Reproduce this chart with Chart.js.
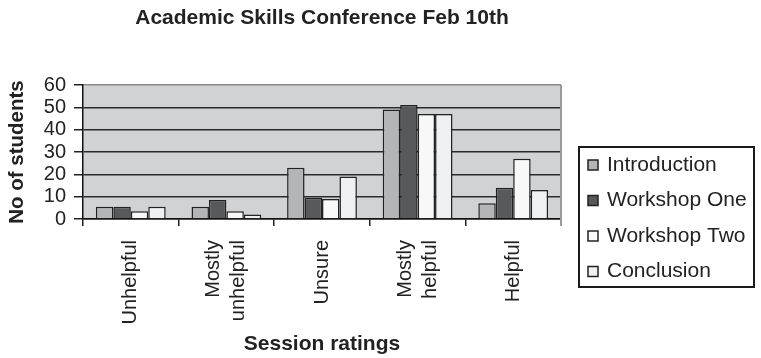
<!DOCTYPE html>
<html>
<head>
<meta charset="utf-8">
<script src="https://cdn.jsdelivr.net/npm/chart.js@4.4.1/dist/chart.umd.min.js"></script>
<style>
  html, body { margin: 0; padding: 0; background: #fff; }
  #wrap { width: 761px; height: 358px; }
</style>
</head>
<body>
<div id="wrap"><canvas id="ratingsChart" width="761" height="358"></canvas></div>
<script>
// session ratings data
const ratings = ['Unhelpful', ['Mostly', 'unhelpful'], 'Unsure', ['Mostly', 'helpful'], 'Helpful'];
const introduction = [5.5, 5.5, 23, 49, 7];
const workshopOne = [5.5, 8.5, 9.5, 51, 14];
const workshopTwo = [3.5, 3.5, 9, 47, 27];
const conclusion = [5.5, 2, 19, 47, 13];
const yTicks = [0, 10, 20, 30, 40, 50, 60];

const FONT = "'Liberation Sans', Arial, sans-serif";

// grey plot background + right edge line
const plotBg = {
    id: 'plotBg',
    beforeDraw(chart) {
        const a = chart.chartArea, ctx = chart.ctx;
        ctx.save();
        ctx.fillStyle = '#d1d2d4';
        ctx.fillRect(a.left, a.top, a.right - a.left, a.bottom - a.top);
        ctx.restore();

        // centre two-line category labels on their tick
        const xs = chart.scales.x;
        xs.getLabelItems().forEach(item => {
            if (Array.isArray(item.label) && !item._moved) {
                const lh = item.font.lineHeight;
                item.options.translation[0] -= lh * (item.label.length - 1) / 2;
                item._moved = true;
            }
        });
    },
    afterDatasetsDraw(chart) {
        const a = chart.chartArea, ctx = chart.ctx;
        ctx.save();
        ctx.strokeStyle = '#9a9a9a';
        ctx.lineWidth = 2;
        ctx.beginPath();
        ctx.moveTo(a.right, a.top);
        ctx.lineTo(a.right, a.bottom + 7);
        ctx.stroke();
        ctx.restore();
    }
};

// boxed legend on the right
const boxLegend = {
    id: 'boxLegend',
    afterDraw(chart) {
        const ctx = chart.ctx;
        const x = 579, y = 147, w = 175, h = 140;
        ctx.save();
        ctx.strokeStyle = '#1a1a1a';
        ctx.lineWidth = 2;
        ctx.strokeRect(x, y, w, h);
        ctx.font = '21px ' + FONT;
        ctx.textBaseline = 'middle';
        chart.data.datasets.forEach((ds, i) => {
            const cy = y + 18 + i * 35.5;
            ctx.fillStyle = ds.backgroundColor;
            ctx.fillRect(x + 9, cy - 5, 10, 10);
            ctx.strokeStyle = '#222';
            ctx.lineWidth = 1.5;
            ctx.strokeRect(x + 9, cy - 5, 10, 10);
            ctx.fillStyle = '#222';
            ctx.fillText(ds.label, x + 28, cy);
        });
        ctx.restore();
    }
};

const ctx = document.getElementById('ratingsChart').getContext('2d');
new Chart(ctx, {
    type: 'bar',
    data: {
        labels: ratings,
        datasets: [
            { label: 'Introduction', data: introduction, backgroundColor: '#b4b5b7' },
            { label: 'Workshop One', data: workshopOne, backgroundColor: '#58595b' },
            { label: 'Workshop Two', data: workshopTwo, backgroundColor: '#f8f8f8' },
            { label: 'Conclusion', data: conclusion, backgroundColor: '#eef0f2' }
        ]
    },
    options: {
        responsive: false,
        animation: false,
        layout: { padding: { left: 0, right: 200, top: 0, bottom: 0 } },
        datasets: {
            bar: {
                borderColor: '#222',
                borderWidth: 1.5,
                barPercentage: 1,
                categoryPercentage: 0.73
            }
        },
        plugins: {
            legend: { display: false },
            tooltip: { enabled: false },
            title: {
                display: true,
                fullSize: false,
                text: 'Academic Skills Conference Feb 10th',
                color: '#222',
                font: { family: FONT, size: 21, weight: 'bold', lineHeight: 1.2 },
                padding: { top: 6, bottom: 53.8 }
            }
        },
        scales: {
            x: {
                afterFit(scale) { scale.height = 139; },
                grid: {
                    drawOnChartArea: false,
                    drawTicks: true,
                    tickLength: 7,
                    color: '#222',
                    lineWidth: 1.5
                },
                border: { color: '#111', width: 1.5 },
                ticks: {
                    color: '#222',
                    maxRotation: 90,
                    minRotation: 90,
                    padding: 14,
                    font: { family: FONT, size: 20, lineHeight: 1.25 }
                },
                title: {
                    display: true,
                    text: 'Session ratings',
                    color: '#222',
                    font: { family: FONT, size: 21, weight: 'bold' },
                    padding: { top: 0, bottom: 1 }
                }
            },
            y: {
                min: yTicks[0],
                max: yTicks[yTicks.length - 1],
                afterFit(scale) { scale.width = 83; },
                afterBuildTicks(scale) { scale.ticks = yTicks.map(v => ({ value: v })); },
                grid: {
                    color: c => (c.tick && c.tick.value === 60 ? '#8a8a8a' : '#2a2a2a'),
                    lineWidth: 1.5,
                    tickLength: 9,
                    tickColor: '#222'
                },
                border: { color: '#111', width: 1.5 },
                ticks: {
                    color: '#222',
                    autoSkip: false,
                    padding: 8,
                    font: { family: FONT, size: 20 }
                },
                title: {
                    display: true,
                    text: 'No of students',
                    color: '#222',
                    font: { family: FONT, size: 20.5, weight: 'bold' },
                    padding: { top: 5, bottom: 0 }
                }
            }
        }
    },
    plugins: [plotBg, boxLegend]
});
</script>
</body>
</html>
